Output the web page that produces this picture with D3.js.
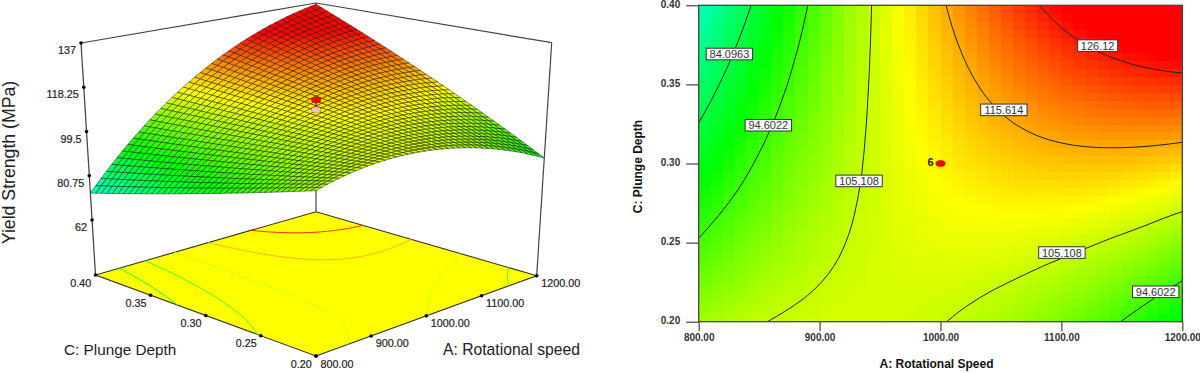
<!DOCTYPE html>
<html><head><meta charset="utf-8">
<script src="https://cdnjs.cloudflare.com/ajax/libs/d3/7.8.5/d3.min.js"></script>
<style>html,body{margin:0;padding:0;background:#fff}svg{display:block}text{font-family:"Liberation Sans",Arial,sans-serif}</style>
</head><body><svg id="c" width="1200" height="373"></svg>
<script>
// Yield strength (MPa) estimated from the contour lines and surface of the picture.
// Rows: plunge depth 0.20 -> 0.40. Columns: rotational speed 800 -> 1200.
const yieldGrid = [
[102.20,102.83,103.41,103.94,104.42,104.85,105.23,105.56,105.84,106.07,106.25,106.38,106.46,106.49,106.47,106.40,106.28,106.11,105.89,105.62,105.30,104.93,104.51,104.04,103.52,102.95,102.33,101.66,100.94,100.17,99.35,98.48,97.56,96.59,95.57,94.50,93.38,92.21,90.99,89.72,88.40],
[101.48,102.16,102.79,103.36,103.89,104.37,104.80,105.18,105.50,105.78,106.01,106.19,106.32,106.39,106.42,106.40,106.33,106.21,106.03,105.81,105.54,105.22,104.85,104.42,103.95,103.43,102.86,102.24,101.56,100.84,100.07,99.25,98.38,97.45,96.48,95.46,94.39,93.27,92.09,90.87,89.60],
[100.76,101.49,102.16,102.79,103.36,103.89,104.37,104.79,105.17,105.49,105.77,105.99,106.17,106.30,106.37,106.40,106.38,106.30,106.18,106.00,105.78,105.51,105.18,104.81,104.38,103.91,103.39,102.81,102.19,101.51,100.79,100.02,99.19,98.32,97.39,96.42,95.40,94.32,93.20,92.02,90.80],
[100.04,100.82,101.54,102.21,102.83,103.41,103.94,104.41,104.83,105.20,105.53,105.80,106.03,106.20,106.32,106.40,106.43,106.40,106.32,106.19,106.02,105.80,105.52,105.19,104.81,104.39,103.92,103.39,102.81,102.18,101.51,100.79,100.01,99.18,98.30,97.38,96.41,95.38,94.30,93.17,92.00],
[99.32,100.15,100.92,101.63,102.30,102.93,103.51,104.03,104.50,104.91,105.29,105.61,105.89,106.10,106.27,106.40,106.48,106.50,106.46,106.38,106.26,106.09,105.86,105.57,105.24,104.87,104.45,103.97,103.43,102.85,102.23,101.56,100.83,100.04,99.21,98.34,97.42,96.44,95.40,94.32,93.20],
[98.60,99.48,100.30,101.05,101.77,102.45,103.08,103.65,104.16,104.62,105.05,105.42,105.75,106.00,106.22,106.40,106.53,106.60,106.61,106.57,106.50,106.38,106.20,105.95,105.67,105.35,104.98,104.55,104.05,103.52,102.95,102.33,101.64,100.90,100.12,99.30,98.43,97.50,96.50,95.47,94.40],
[97.88,98.81,99.67,100.47,101.24,101.97,102.64,103.26,103.83,104.33,104.81,105.23,105.60,105.91,106.17,106.40,106.57,106.69,106.75,106.76,106.74,106.67,106.53,106.34,106.10,105.83,105.50,105.12,104.68,104.19,103.67,103.09,102.45,101.77,101.03,100.26,99.44,98.55,97.60,96.62,95.60],
[97.16,98.14,99.05,99.90,100.71,101.49,102.21,102.88,103.49,104.04,104.57,105.04,105.46,105.81,106.12,106.40,106.62,106.79,106.90,106.95,106.98,106.96,106.87,106.72,106.53,106.31,106.03,105.70,105.30,104.86,104.39,103.86,103.27,102.63,101.94,101.22,100.45,99.61,98.70,97.77,96.80],
[96.44,97.47,98.42,99.32,100.18,101.01,101.78,102.49,103.15,103.75,104.33,104.85,105.31,105.72,106.08,106.40,106.67,106.88,107.04,107.14,107.22,107.25,107.20,107.11,106.96,106.79,106.56,106.28,105.93,105.53,105.11,104.63,104.09,103.49,102.85,102.18,101.46,100.67,99.81,98.92,98.00],
[95.72,96.80,97.80,98.74,99.65,100.53,101.35,102.11,102.81,103.46,104.09,104.66,105.17,105.62,106.03,106.40,106.72,106.98,107.19,107.33,107.46,107.54,107.54,107.49,107.39,107.27,107.09,106.85,106.55,106.20,105.83,105.39,104.90,104.36,103.76,103.14,102.47,101.73,100.91,100.07,99.20],
[95.00,96.13,97.17,98.16,99.12,100.05,100.91,101.72,102.47,103.17,103.85,104.47,105.03,105.53,105.98,106.40,106.76,107.07,107.33,107.53,107.70,107.83,107.87,107.88,107.82,107.75,107.62,107.43,107.18,106.87,106.55,106.16,105.72,105.22,104.67,104.10,103.48,102.79,102.02,101.22,100.40],
[94.28,95.46,96.55,97.58,98.59,99.57,100.48,101.34,102.13,102.88,103.61,104.28,104.89,105.43,105.93,106.40,106.81,107.17,107.47,107.72,107.94,108.11,108.21,108.26,108.25,108.23,108.15,108.00,107.80,107.54,107.27,106.93,106.54,106.09,105.58,105.06,104.49,103.85,103.12,102.37,101.60],
[93.56,94.79,95.92,97.00,98.06,99.09,100.05,100.95,101.79,102.59,103.37,104.09,104.74,105.34,105.88,106.40,106.86,107.26,107.62,107.91,108.18,108.40,108.54,108.64,108.68,108.71,108.68,108.58,108.42,108.21,107.99,107.70,107.35,106.95,106.49,106.02,105.50,104.91,104.23,103.52,102.80],
[92.84,94.12,95.30,96.42,97.53,98.61,99.62,100.57,101.45,102.30,103.13,103.90,104.60,105.24,105.83,106.40,106.91,107.36,107.76,108.10,108.42,108.69,108.88,109.03,109.11,109.19,109.21,109.15,109.05,108.88,108.71,108.47,108.17,107.81,107.40,106.98,106.51,105.97,105.33,104.67,104.00],
[92.12,93.45,94.67,95.84,97.00,98.13,99.18,100.18,101.11,102.01,102.89,103.71,104.45,105.15,105.78,106.40,106.95,107.45,107.90,108.29,108.66,108.98,109.21,109.41,109.54,109.67,109.74,109.73,109.67,109.55,109.43,109.24,108.98,108.67,108.31,107.94,107.52,107.03,106.44,105.82,105.20],
[91.40,92.78,94.05,95.26,96.47,97.65,98.75,99.80,100.77,101.72,102.65,103.52,104.31,105.05,105.73,106.40,107.00,107.55,108.05,108.48,108.90,109.27,109.55,109.80,109.97,110.15,110.27,110.31,110.30,110.22,110.15,110.01,109.80,109.54,109.22,108.90,108.53,108.09,107.54,106.97,106.40],
[90.68,92.11,93.42,94.68,95.94,97.17,98.32,99.41,100.43,101.43,102.41,103.33,104.16,104.96,105.68,106.40,107.05,107.64,108.19,108.67,109.14,109.56,109.88,110.18,110.40,110.63,110.80,110.88,110.92,110.89,110.87,110.78,110.62,110.40,110.13,109.86,109.54,109.15,108.65,108.12,107.60],
[89.96,91.44,92.80,94.10,95.41,96.69,97.89,99.03,100.09,101.14,102.17,103.14,104.02,104.86,105.63,106.40,107.10,107.74,108.33,108.86,109.38,109.85,110.22,110.57,110.83,111.11,111.33,111.46,111.55,111.56,111.59,111.55,111.44,111.26,111.04,110.82,110.55,110.21,109.75,109.27,108.80],
[89.24,90.77,92.17,93.52,94.88,96.21,97.46,98.64,99.75,100.85,101.93,102.95,103.87,104.77,105.58,106.40,107.14,107.83,108.48,109.05,109.62,110.14,110.55,110.95,111.26,111.59,111.86,112.04,112.17,112.23,112.31,112.32,112.25,112.13,111.95,111.78,111.56,111.27,110.86,110.42,110.00],
[88.52,90.10,91.55,92.94,94.35,95.73,97.02,98.26,99.41,100.56,101.69,102.76,103.73,104.67,105.53,106.40,107.19,107.93,108.62,109.24,109.86,110.43,110.89,111.34,111.69,112.07,112.39,112.61,112.80,112.90,113.03,113.09,113.07,112.99,112.86,112.74,112.57,112.33,111.96,111.57,111.20],
[87.80,89.39,90.93,92.42,93.86,95.25,96.59,97.88,99.12,100.31,101.45,102.54,103.58,104.57,105.51,106.40,107.24,108.03,108.77,109.46,110.10,110.69,111.23,111.72,112.16,112.55,112.89,113.18,113.42,113.61,113.75,113.84,113.88,113.87,113.81,113.70,113.54,113.33,113.07,112.76,112.40],
[87.08,88.72,90.31,91.84,93.33,94.77,96.16,97.50,98.78,100.02,101.21,102.35,103.44,104.47,105.46,106.40,107.29,108.13,108.91,109.65,110.34,110.98,111.57,112.10,112.59,113.03,113.42,113.76,114.04,114.28,114.47,114.61,114.70,114.73,114.72,114.66,114.55,114.39,114.17,113.91,113.60],
[86.36,88.05,89.68,91.27,92.80,94.29,95.73,97.11,98.45,99.73,100.97,102.16,103.29,104.38,105.41,106.40,107.34,108.22,109.06,109.84,110.58,111.27,111.90,112.49,113.02,113.51,113.95,114.33,114.67,114.95,115.19,115.38,115.51,115.60,115.63,115.62,115.56,115.44,115.28,115.06,114.80],
[85.64,87.37,89.06,90.69,92.28,93.81,95.29,96.73,98.11,99.45,100.73,101.96,103.15,104.28,105.37,106.40,107.38,108.32,109.20,110.04,110.82,111.55,112.24,112.87,113.46,113.99,114.47,114.91,115.29,115.63,115.91,116.14,116.33,116.46,116.55,116.58,116.56,116.50,116.38,116.22,116.00],
[84.92,86.70,88.43,90.12,91.75,93.33,94.86,96.34,97.78,99.16,100.49,101.77,103.00,104.19,105.32,106.40,107.43,108.41,109.35,110.23,111.06,111.84,112.57,113.26,113.89,114.47,115.00,115.48,115.92,116.30,116.63,116.91,117.14,117.33,117.46,117.54,117.57,117.55,117.49,117.37,117.20],
[84.20,86.03,87.81,89.54,91.22,92.85,94.43,95.96,97.44,98.87,100.25,101.58,102.86,104.09,105.27,106.40,107.48,108.51,109.49,110.42,111.30,112.13,112.91,113.64,114.32,114.95,115.53,116.06,116.54,116.97,117.35,117.68,117.96,118.19,118.37,118.50,118.58,118.61,118.59,118.52,118.40],
[83.48,85.36,87.19,88.96,90.69,92.37,94.00,95.58,97.10,98.58,100.01,101.39,102.72,104.00,105.22,106.40,107.53,108.61,109.63,110.61,111.54,112.42,113.25,114.02,114.75,115.43,116.06,116.64,117.16,117.64,118.07,118.45,118.78,119.05,119.28,119.46,119.59,119.67,119.69,119.67,119.60],
[82.76,84.69,86.56,88.39,90.16,91.89,93.57,95.19,96.77,98.29,99.77,101.20,102.57,103.90,105.17,106.40,107.58,108.70,109.78,110.80,111.78,112.71,113.58,114.41,115.18,115.91,116.59,117.21,117.79,118.31,118.79,119.22,119.59,119.92,120.19,120.42,120.60,120.72,120.80,120.82,120.80],
[82.04,84.01,85.94,87.81,89.64,91.41,93.13,94.81,96.43,98.01,99.53,101.00,102.43,103.80,105.13,106.40,107.62,108.80,109.92,111.00,112.02,112.99,113.92,114.79,115.62,116.39,117.11,117.79,118.41,118.99,119.51,119.98,120.41,120.78,121.11,121.38,121.60,121.78,121.90,121.98,122.00],
[81.32,83.34,85.31,87.24,89.11,90.93,92.70,94.42,96.10,97.72,99.29,100.81,102.28,103.71,105.08,106.40,107.67,108.89,110.07,111.19,112.26,113.28,114.25,115.18,116.05,116.87,117.64,118.36,119.04,119.66,120.23,120.75,121.22,121.65,122.02,122.34,122.61,122.83,123.01,123.13,123.20],
[80.60,82.67,84.69,86.66,88.58,90.45,92.27,94.04,95.76,97.43,99.05,100.62,102.14,103.61,105.03,106.40,107.72,108.99,110.21,111.38,112.50,113.57,114.59,115.56,116.48,117.35,118.17,118.94,119.66,120.33,120.95,121.52,122.04,122.51,122.93,123.30,123.62,123.89,124.11,124.28,124.40],
[79.88,82.00,84.07,86.08,88.05,89.97,91.84,93.66,95.42,97.14,98.81,100.43,102.00,103.51,104.98,106.40,107.77,109.09,110.35,111.57,112.74,113.86,114.93,115.94,116.91,117.83,118.70,119.52,120.28,121.00,121.67,122.29,122.86,123.37,123.84,124.26,124.63,124.95,125.21,125.43,125.60],
[79.16,81.33,83.44,85.51,87.52,89.49,91.41,93.27,95.09,96.85,98.57,100.24,101.85,103.42,104.93,106.40,107.82,109.18,110.50,111.76,112.98,114.15,115.26,116.33,117.34,118.31,119.23,120.09,120.91,121.67,122.39,123.06,123.67,124.24,124.75,125.22,125.64,126.00,126.32,126.58,126.80],
[78.44,80.65,82.82,84.93,87.00,89.01,90.97,92.89,94.75,96.57,98.33,100.04,101.71,103.32,104.89,106.40,107.86,109.28,110.64,111.96,113.22,114.43,115.60,116.71,117.78,118.79,119.75,120.67,121.53,122.35,123.11,123.82,124.49,125.10,125.67,126.18,126.64,127.06,127.42,127.74,128.00],
[77.72,79.98,82.19,84.36,86.47,88.53,90.54,92.50,94.42,96.28,98.09,99.85,101.56,103.23,104.84,106.40,107.91,109.37,110.79,112.15,113.46,114.72,115.93,117.10,118.21,119.27,120.28,121.24,122.16,123.02,123.83,124.59,125.30,125.97,126.58,127.14,127.65,128.11,128.53,128.89,129.20],
[77.00,79.31,81.57,83.78,85.94,88.05,90.11,92.12,94.08,95.99,97.85,99.66,101.42,103.13,104.79,106.40,107.96,109.47,110.93,112.34,113.70,115.01,116.27,117.48,118.64,119.75,120.81,121.82,122.78,123.69,124.55,125.36,126.12,126.83,127.49,128.10,128.66,129.17,129.63,130.04,130.40],
[76.28,78.64,80.95,83.20,85.41,87.57,89.68,91.74,93.74,95.70,97.61,99.47,101.28,103.04,104.74,106.40,108.01,109.57,111.07,112.53,113.94,115.30,116.61,117.87,119.07,120.23,121.34,122.40,123.40,124.36,125.27,126.13,126.94,127.69,128.40,129.06,129.67,130.23,130.73,131.19,131.60],
[75.56,77.97,80.32,82.63,84.88,87.09,89.25,91.35,93.41,95.41,97.37,99.28,101.13,102.94,104.70,106.40,108.06,109.66,111.22,112.72,114.18,115.59,116.94,118.25,119.50,120.71,121.87,122.97,124.03,125.03,125.99,126.90,127.75,128.56,129.31,130.02,130.68,131.28,131.84,132.34,132.80],
[74.84,77.29,79.70,82.05,84.36,86.61,88.81,90.97,93.07,95.13,97.13,99.08,100.99,102.84,104.65,106.40,108.10,109.76,111.36,112.92,114.42,115.87,117.28,118.63,119.94,121.19,122.39,123.55,124.65,125.71,126.71,127.66,128.57,129.42,130.23,130.98,131.68,132.34,132.94,133.50,134.00],
[74.12,76.62,79.07,81.48,83.83,86.13,88.38,90.58,92.73,94.84,96.89,98.89,100.84,102.75,104.60,106.40,108.15,109.85,111.51,113.11,114.66,116.16,117.61,119.02,120.37,121.67,122.92,124.12,125.28,126.38,127.43,128.43,129.38,130.29,131.14,131.94,132.69,133.39,134.05,134.65,135.20],
[73.40,75.95,78.45,80.90,83.30,85.65,87.95,90.20,92.40,94.55,96.65,98.70,100.70,102.65,104.55,106.40,108.20,109.95,111.65,113.30,114.90,116.45,117.95,119.40,120.80,122.15,123.45,124.70,125.90,127.05,128.15,129.20,130.20,131.15,132.05,132.90,133.70,134.45,135.15,135.80,136.40]
];
const speedDomain = [800, 1200];
const depthDomain = [0.20, 0.40];
const speedTicks = [800, 900, 1000, 1100, 1200];
const depthTicks = [0.20, 0.25, 0.30, 0.35, 0.40];
const strengthTicks = [62, 80.75, 99.5, 118.25, 137];
const strengthDomain = [38.7, 137];
const contourLevels = [84.0963, 94.6022, 105.108, 115.614, 126.12];
const contourLabelText = ["84.0963","94.6022","105.108","115.614","126.12","105.108","94.6022"];
const contourLabelSpeed = [825.4, 857.6, 932.6, 1052.4, 1130, 1100.4, 1178];
const contourLabelDepth = [0.3692, 0.3242, 0.289, 0.3339, 0.3745, 0.2437, 0.2189];
const centerSpeed = 1000, centerDepth = 0.30, centerReplicates = "6";
const designAbove = 114.7, designBelow = 110.5;
const colorStops = [68, 90, 109.5, 128];
const colorNames = ["#00ffff", "#00ff00", "#ffff00", "#ff0000"];

const svg = d3.select("#c");
const color = d3.scaleLinear().domain(colorStops).range(colorNames).clamp(true);
const nRows = yieldGrid.length, nCols = yieldGrid[0].length;
const flat = yieldGrid.flat();
const speedAt = d3.scaleLinear([0, nCols - 1], speedDomain);
const depthAt = d3.scaleLinear([0, nRows - 1], depthDomain);

// shared contour extraction (lines only, boundary links removed)
function contourRuns(level) {
  const geo = d3.contours().size([nCols, nRows]).thresholds([level])(flat)[0];
  const runs = [];
  const onB = p => p[0] <= 0 || p[1] <= 0 || p[0] >= nCols || p[1] >= nRows;
  const clampI = (v, n) => Math.max(0, Math.min(n - 1, v));
  geo.coordinates.forEach(poly => poly.forEach(ring => {
    let pts = ring.slice(0, -1);
    const s = pts.findIndex(onB);
    if (s > 0) pts = pts.slice(s).concat(pts.slice(0, s));
    let cur = [];
    pts.forEach(p => {
      if (onB(p)) { if (cur.length > 1) runs.push(cur); cur = []; }
      else cur.push([speedAt(clampI(p[0] - .5, nCols)), depthAt(clampI(p[1] - .5, nRows))]);
    });
    if (cur.length > 1) runs.push(cur);
  }));
  return runs;
}

/* ---------- right: contour plot ---------- */
const x = d3.scaleLinear(speedDomain, [698.7, 1182.3]);
const y = d3.scaleLinear(depthDomain, [321.7, 5.3]);
const cells = [];
for (let j = 0; j < nRows - 1; j++) for (let i = 0; i < nCols - 1; i++)
  cells.push({i, j, v: (yieldGrid[j][i] + yieldGrid[j][i+1] + yieldGrid[j+1][i] + yieldGrid[j+1][i+1]) / 4});
const rightG = svg.append("g");
rightG.append("g").attr("shape-rendering", "crispEdges").selectAll("rect").data(cells).join("rect")
  .attr("x", d => x(speedAt(d.i))).attr("y", d => y(depthAt(d.j + 1)))
  .attr("width", d => x(speedAt(d.i + 1)) - x(speedAt(d.i)) + .6)
  .attr("height", d => y(depthAt(d.j)) - y(depthAt(d.j + 1)) + .6)
  .attr("fill", d => color(d.v));
const line2d = d3.line().x(d => x(d[0])).y(d => y(d[1]));
contourLevels.forEach(l => contourRuns(l).forEach(r =>
  rightG.append("path").attr("d", line2d(r)).attr("fill", "none").attr("stroke", "#222").attr("stroke-width", 1)));
rightG.append("rect").attr("x", x(800)).attr("y", y(.4)).attr("width", x(1200) - x(800)).attr("height", y(.2) - y(.4))
  .attr("fill", "none").attr("stroke", "#444").attr("stroke-width", 1.3);
const fmt2 = d3.format(".2f");
const gx = rightG.append("g").attr("transform", `translate(0,${y(.2)})`)
  .call(d3.axisBottom(x).tickValues(speedTicks).tickFormat(fmt2).tickSize(9.5).tickPadding(3));
const gy = rightG.append("g").attr("transform", `translate(${x(800)},0)`)
  .call(d3.axisLeft(y).tickValues(depthTicks).tickFormat(fmt2).tickSize(12.5).tickPadding(6));
[gx, gy].forEach(g => {
  g.select(".domain").remove();
  g.selectAll("line").attr("stroke", "#444").attr("stroke-width", 1.2);
  g.selectAll("text").attr("font-size", 10).attr("font-weight", "bold").attr("fill", "#333")
    .attr("font-family", '"Liberation Sans",Arial,sans-serif');
});
gy.selectAll("text").attr("dy", "0.2em");
contourLabelText.forEach((t, k) => {
  const cx = x(contourLabelSpeed[k]), cy = y(contourLabelDepth[k]);
  const w = t.length === 6 ? 40 : 46.4;
  rightG.append("rect").attr("x", cx - w / 2).attr("y", cy - 5.8).attr("width", w).attr("height", 11.6)
    .attr("fill", "#fff").attr("stroke", "#333").attr("stroke-width", 1);
  rightG.append("text").attr("x", cx).attr("y", cy + 4).attr("text-anchor", "middle")
    .attr("font-size", 11).attr("fill", "#333").text(t);
});
rightG.append("ellipse").attr("cx", x(centerSpeed)).attr("cy", y(centerDepth)).attr("rx", 4.7).attr("ry", 3)
  .attr("fill", "#f00").attr("stroke", "#700").attr("stroke-width", .5);
rightG.append("text").attr("x", x(centerSpeed) - 10).attr("y", y(centerDepth) + 2).attr("text-anchor", "middle")
  .attr("font-size", 11).attr("font-weight", "bold").attr("fill", "#222").text(centerReplicates);
rightG.append("text").attr("x", 936.5).attr("y", 368).attr("text-anchor", "middle")
  .attr("font-size", 12).attr("font-weight", "bold").attr("fill", "#111").text("A: Rotational Speed");
rightG.append("text").attr("transform", "translate(642,166.5) rotate(-90)").attr("text-anchor", "middle")
  .attr("font-size", 12).attr("font-weight", "bold").attr("fill", "#111").text("C: Plunge Depth");

/* ---------- left: 3D surface ---------- */
const fu = d3.scaleLinear(speedDomain, [0, 1]);
const fv = d3.scaleLinear(depthDomain, [0, 1]);
const ft = d3.scaleLinear(strengthDomain, [0, 1]);
const floorC = {f: [316, 356], r: [536.7, 275.7], l: [95.5, 275], b: [316, 211.7]};
const roofC = {f: [316, 100], r: [551.7, 42.7], l: [81, 43], b: [316, 3]};
const bil = (q, u, v) => [0, 1].map(k => (1-u)*(1-v)*q.f[k] + u*(1-v)*q.r[k] + (1-u)*v*q.l[k] + u*v*q.b[k]);
function proj(sp, dp, val) {
  const u = fu(sp), v = fv(dp), t = ft(val);
  const a = bil(floorC, u, v), b = bil(roofC, u, v);
  return [a[0] + (b[0] - a[0]) * t, a[1] + (b[1] - a[1]) * t];
}
const leftG = svg.append("g");
const lineP = d3.line();
const seg = (a, b) => leftG.append("path").attr("d", lineP([a, b])).attr("fill", "none").attr("stroke", "#444").attr("stroke-width", 1.2);
const zTop = strengthDomain[1], zBot = strengthDomain[0];
seg(proj(800, .4, zBot), proj(800, .4, zTop));
seg(proj(1200, .2, zBot), proj(1200, .2, zTop));
seg(proj(1200, .4, zBot), proj(1200, .4, zTop));
seg(proj(800, .4, zTop), proj(1200, .4, zTop));
seg(proj(1200, .4, zTop), proj(1200, .2, zTop));
// floor
leftG.append("path").attr("d", lineP([proj(800,.2,zBot), proj(1200,.2,zBot), proj(1200,.4,zBot), proj(800,.4,zBot)]) + "Z")
  .attr("fill", "#ffff00").attr("stroke", "#333").attr("stroke-width", 1.1);
contourLevels.forEach(l => contourRuns(l).forEach(r =>
  leftG.append("path").attr("d", lineP(r.map(p => proj(p[0], p[1], zBot)))).attr("fill", "none")
    .attr("stroke", color(l)).attr("stroke-width", .9)));
// surface, painted back to front
const meshCells = [];
for (let j = nRows - 2; j >= 0; j--) for (let i = nCols - 2; i >= 0; i--) meshCells.push({i, j});
leftG.append("g").selectAll("path").data(meshCells).join("path")
  .attr("d", ({i, j}) => lineP([
    proj(speedAt(i), depthAt(j), yieldGrid[j][i]), proj(speedAt(i+1), depthAt(j), yieldGrid[j][i+1]),
    proj(speedAt(i+1), depthAt(j+1), yieldGrid[j+1][i+1]), proj(speedAt(i), depthAt(j+1), yieldGrid[j+1][i])]) + "Z")
  .attr("fill", ({i, j}) => color((yieldGrid[j][i] + yieldGrid[j][i+1] + yieldGrid[j+1][i] + yieldGrid[j+1][i+1]) / 4))
  .attr("stroke", "#111").attr("stroke-width", .6).attr("stroke-opacity", .8);
// design point
const pA = proj(centerSpeed, centerDepth, designAbove), pB = proj(centerSpeed, centerDepth, designBelow);
leftG.append("path").attr("d", lineP([pA, pB])).attr("stroke", "#222").attr("stroke-width", 1);
leftG.append("ellipse").attr("cx", pB[0]).attr("cy", pB[1]).attr("rx", 4.7).attr("ry", 3).attr("fill", "#f7bcbc").attr("stroke", "#844").attr("stroke-width", .4);
leftG.append("ellipse").attr("cx", pA[0]).attr("cy", pA[1]).attr("rx", 4.7).attr("ry", 3).attr("fill", "#f00").attr("stroke", "#700").attr("stroke-width", .4);
// ticks
const dot = p => leftG.append("circle").attr("cx", p[0]).attr("cy", p[1]).attr("r", 1.8).attr("fill", "#000");
const label = (p, dx, dy, t, a) => leftG.append("text").attr("x", p[0] + dx).attr("y", p[1] + dy).attr("text-anchor", a)
  .attr("dominant-baseline", "central").attr("font-size", 10.8).attr("fill", "#222").attr("stroke", "#222").attr("stroke-width", .2).text(t);
strengthTicks.forEach(v => { const p = proj(800, .4, v); dot(p); label(p, -5, 7, String(v), "end"); });
depthTicks.forEach(v => { const p = proj(800, v, zBot); dot(p); label(p, -14.7, 7.5, fmt2(v), "middle"); });
speedTicks.forEach(v => { const p = proj(v, .2, zBot); dot(p); label(p, 4.5, 7.5, fmt2(v), "start"); });
leftG.append("text").attr("transform", "translate(15,162.5) rotate(-90)").attr("text-anchor", "middle")
  .attr("font-size", 17.7).attr("fill", "#222").text("Yield Strength (MPa)");
leftG.append("text").attr("x", 64).attr("y", 355).attr("font-size", 15.3).attr("fill", "#222").text("C: Plunge Depth");
leftG.append("text").attr("x", 443).attr("y", 355).attr("font-size", 15.7).attr("fill", "#222").text("A: Rotational speed");
</script></body></html>
